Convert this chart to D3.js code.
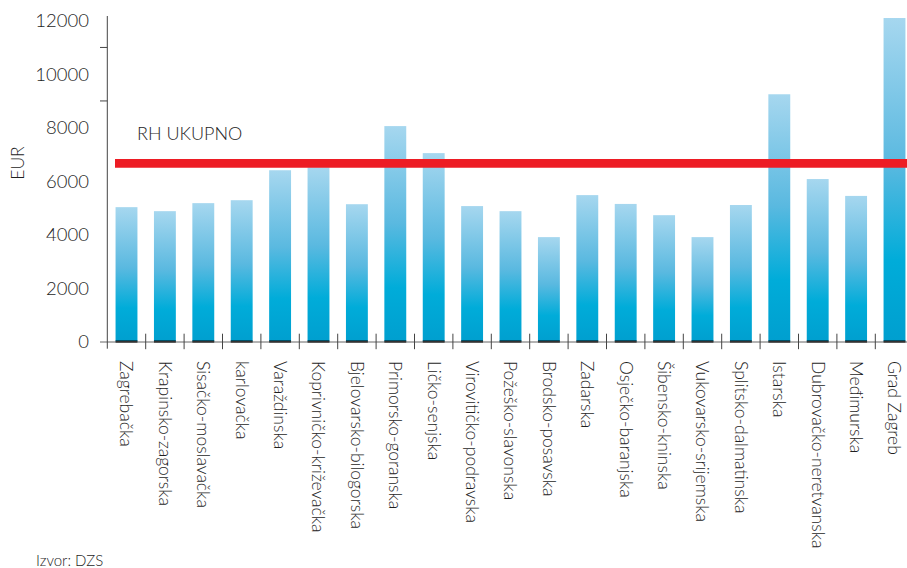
<!DOCTYPE html>
<html><head><meta charset="utf-8">
<script src="https://cdn.jsdelivr.net/npm/d3@7"></script>
<style>
html,body{margin:0;padding:0;background:#fff;overflow:hidden;}
text{font-family:Lato,"Open Sans",sans-serif;font-weight:300;fill:#1e1e1e;}
</style></head>
<body>
<svg id="chart" width="907" height="568"></svg>
<script>
const categories = ["Zagrebačka","Krapinsko-zagorska","Sisačko-moslavačka","karlovačka","Varaždinska","Koprivničko-križevačka","Bjelovarsko-bilogorska","Primorsko-goranska","Ličko-senjska","Virovitičko-podravska","Požeško-slavonska","Brodsko-posavska","Zadarska","Osječko-baranjska","Šibensko-kninska","Vukovarsko-srijemska","Splitsko-dalmatinska","Istarska","Dubrovačko-neretvanska","Međimurska","Grad Zagreb"];
const values = [5030,4880,5180,5290,6410,6520,5140,8060,7050,5070,4880,3910,5480,5150,4730,3910,5110,9250,6080,5450,12100];
const rhTotal = 6670;
const rhLabel = "RH UKUPNO";
const yTicks = [0,2000,4000,6000,8000,10000,12000];
const yMinorTicks = [9000,11000];
const yTitle = "EUR";
const source = "Izvor: DZS";

const svg = d3.select("#chart");
const x0 = 107.3, step = 38.4;
const x = d3.scaleBand().domain(categories).range([x0, x0 + step*categories.length]).paddingInner(0.43).paddingOuter(0.215);
const y = d3.scaleLinear().domain([0,12000]).range([341.7, 20.7]);

const defs = svg.append("defs");
const g = defs.append("linearGradient").attr("id","barGrad").attr("x1",0).attr("y1",0).attr("x2",0).attr("y2",1);
g.append("stop").attr("offset","0%").attr("stop-color","#a6d7ef");
g.append("stop").attr("offset","45%").attr("stop-color","#5ab9e0");
g.append("stop").attr("offset","75%").attr("stop-color","#00acd9");
g.append("stop").attr("offset","100%").attr("stop-color","#009fcf");

// bars
svg.selectAll("rect.bar").data(values).join("rect").attr("class","bar")
  .attr("x",(d,i)=>x(categories[i])).attr("width",x.bandwidth())
  .attr("y",d=>y(d)).attr("height",d=>y(0)-y(d)).attr("fill","url(#barGrad)");
// black bottom edges
svg.selectAll("rect.base").data(values).join("rect").attr("class","base")
  .attr("x",(d,i)=>x(categories[i])).attr("width",x.bandwidth())
  .attr("y",y(0)-1.2).attr("height",2.2).attr("fill","#000");

// x axis line
svg.append("line").attr("x1",100).attr("x2",907).attr("y1",y(0)+0.3).attr("y2",y(0)+0.3).attr("stroke","#666").attr("stroke-width",1);
// category boundary ticks
svg.selectAll("line.ct").data(d3.range(1,categories.length+1)).join("line").attr("class","ct")
  .attr("x1",i=>x0+i*x.step()).attr("x2",i=>x0+i*x.step())
  .attr("y1",y(0)-8).attr("y2",y(0)+7.5).attr("stroke","#444").attr("stroke-width",1);

// y axis
svg.append("line").attr("x1",x0).attr("x2",x0).attr("y1",16).attr("y2",y(0)+7).attr("stroke","#444").attr("stroke-width",1);
svg.selectAll("line.mt").data(yMinorTicks).join("line").attr("class","mt")
  .attr("x1",100).attr("x2",x0).attr("y1",d=>y(d)).attr("y2",d=>y(d)).attr("stroke","#444");
svg.selectAll("text.yt").data(yTicks).join("text").attr("class","yt")
  .attr("x",89).attr("y",d=>y(d)).attr("dy","0.36em").attr("text-anchor","end")
  .attr("font-size",18.5).text(d=>d);
svg.append("text").attr("transform","translate(24,163) rotate(-90)").attr("text-anchor","middle")
  .attr("font-size",17.5).text(yTitle);

// category labels
svg.selectAll("text.cat").data(categories).join("text").attr("class","cat")
  .attr("transform",d=>`translate(${x(d)+x.bandwidth()/2},361) rotate(90)`)
  .attr("dy","0.35em").attr("font-size",17.5).text(d=>d);

// RH total line
svg.append("line").attr("x1",115).attr("x2",907).attr("y1",y(rhTotal)).attr("y2",y(rhTotal))
  .attr("stroke","#ed1c24").attr("stroke-width",8.7);
svg.append("text").attr("x",137).attr("y",140).attr("font-size",18).text(rhLabel);

svg.append("text").attr("x",36).attr("y",566).attr("font-size",15).text(source);
</script>
</body></html>
